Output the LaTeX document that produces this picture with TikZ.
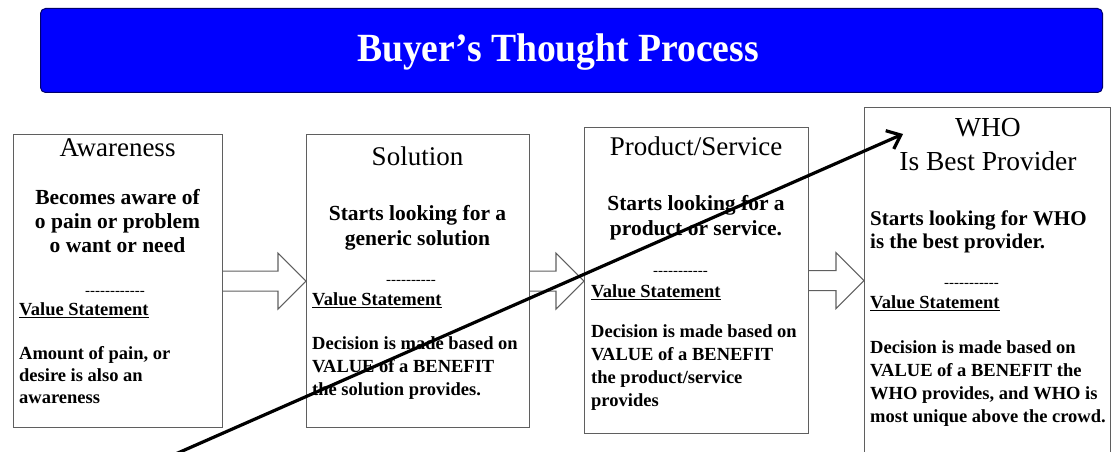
\documentclass[tikz,border=0pt]{standalone}
\usepackage{fontspec}
\setmainfont{Liberation Serif}
\usetikzlibrary{calc,arrows.meta}

\definecolor{boxgray}{RGB}{95,95,95}
\definecolor{titleblue}{RGB}{0,0,255}
\definecolor{titleedge}{RGB}{0,0,110}

\newcommand{\dashrow}[1]{\foreach \k in {1,...,#1}{-\kern0pt}}
\newcommand{\vstatement}{\setbox0\hbox{Value Statement}\rlap{\rule[-3pt]{\wd0}{1.3pt}}\box0}
\newcommand{\blockarrow}[2]{%
	\draw[blockline] ($(#1.east)+(0,-10)$) -- ($(#2.west |- #1.east)+(-28,-10)$)
		-- ++(0,-18) -- (#2.west |- #1.east) -- ++(-28,28) -- ++(0,-18)
		-- ($(#1.east)+(0,10)$);
}

\begin{document}
\begin{tikzpicture}[x=1pt,y=-1pt,
		box/.style={draw=boxgray,line width=1.2pt,anchor=north west,inner sep=0pt},
		blockline/.style={draw=boxgray,line width=1.1pt,line join=miter},
		head/.style={inner sep=0pt,anchor=base,font=\fontsize{27}{34}\selectfont},
		body/.style={inner sep=0pt,font=\fontsize{21.5}{25}\selectfont\bfseries},
		dashes/.style={inner sep=0pt,anchor=base,font=\fontsize{15}{15}\selectfont},
		value/.style={inner sep=0pt,anchor=base west,font=\fontsize{18.5}{22}\selectfont\bfseries},
		note/.style={inner sep=0pt,anchor=base west,align=left,font=\fontsize{18.5}{22.8}\selectfont\bfseries},
		pointer/.style={line width=3.2pt,-{Straight Barb[length=12pt,width=20pt]}}]
	\useasboundingbox (0,0) rectangle (1117,452);

	% title bar
	\node[fill=titleblue,draw=titleedge,line width=1pt,rounded corners=5pt,
		minimum width=1062,minimum height=84,anchor=north west] (bar) at (40,8) {};
	\node[inner sep=0pt,anchor=base,text=white,font=\fontsize{40}{40}\selectfont\bfseries]
		(title) at (558,62) {\scalebox{0.94}[1]{Buyer’s Thought Process}};

	% the four stages
	\node[box,minimum width=209,minimum height=293] (aw)   at (13,134)  {};
	\node[box,minimum width=223,minimum height=293] (sol)  at (306,134) {};
	\node[box,minimum width=224,minimum height=306] (prod) at (584,127) {};
	\node[box,minimum width=246,minimum height=370] (who)  at (864,107) {};

	\blockarrow{aw}{sol}
	\blockarrow{sol}{prod}
	\blockarrow{prod}{who}

	% Awareness (multi line nodes sit on their last baseline)
	\node[head] (awHead) at (117.5,156) {Awareness};
	\node[body,anchor=base,align=center,font=\fontsize{21.5}{24}\selectfont\bfseries]
		(awText) at (117.5,252) {Becomes aware of\\o pain or problem\\o want or need};
	\node[dashes] (awDash) at (115,295) {\dashrow{12}};
	\node[value] (awValue) at (19,315) {\vstatement};
	\node[note,font=\fontsize{18.5}{22}\selectfont\bfseries]
		(awNote) at (19,403) {Amount of pain, or\\desire is also an\\awareness};

	% Solution
	\node[head] (solHead) at (417.5,165) {Solution};
	\node[body,anchor=base,align=center] (solText) at (417.5,245) {Starts looking for a\\generic solution};
	\node[dashes] (solDash) at (411,284) {\dashrow{10}};
	\node[value] (solValue) at (312,305) {\vstatement};
	\node[note] (solNote) at (312,395) {Decision is made based on\\VALUE of a BENEFIT\\the solution provides.};

	% Product/Service
	\node[head] (prodHead) at (696,155) {Product/Service};
	\node[body,anchor=base,align=center] (prodText) at (696,235) {Starts looking for a\\product or service.};
	\node[dashes] (prodDash) at (680.5,275) {\dashrow{11}};
	\node[value] (prodValue) at (591,297) {\vstatement};
	\node[note] (prodNote) at (591,406) {Decision is made based on\\VALUE of a BENEFIT\\the product/service\\provides};

	% WHO
	\node[head,align=center,font=\fontsize{27.5}{33.5}\selectfont] (whoHead) at (988,170) {WHO\\Is Best Provider};
	\node[body,anchor=base west,align=left,font=\fontsize{21}{23.5}\selectfont\bfseries]
		(whoText) at (870,248.5) {Starts looking for WHO\\is the best provider.};
	\node[dashes] (whoDash) at (971.5,287) {\dashrow{11}};
	\node[value] (whoValue) at (870,308) {\vstatement};
	\node[note] (whoNote) at (870,422) {Decision is made based on\\VALUE of a BENEFIT the\\WHO provides, and WHO is\\most unique above the crowd.};

	% hand drawn pointer
	\coordinate (penStart) at (171,456);
	\coordinate (penTip) at (903,134);
	\draw[pointer] (penStart) -- (penTip);
\end{tikzpicture}
\end{document}
